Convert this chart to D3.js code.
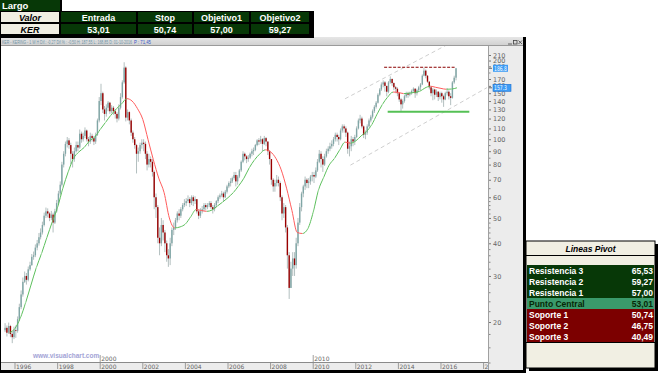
<!DOCTYPE html>
<html>
<head>
<meta charset="utf-8">
<script src="https://cdnjs.cloudflare.com/ajax/libs/d3/7.8.5/d3.min.js"></script>
<style>
  body { margin: 0; background: #fff; }
  svg { display: block; }
  text { font-family: "Liberation Sans", Arial, sans-serif; }
</style>
</head>
<body>
<svg id="chart" width="660" height="376"></svg>
<script>
// ---------- data ----------
// monthly candles, Jul 1995 .. Sep 2016 (open = previous close)
const firstOpen = 18.6
const closes = [
  19.0, 18.2, 19.3, 18.0, 17.5, 18.6,
  18.5, 20.5, 22.8, 25.5, 28.5, 30.0, 29.0, 31.8, 33.0, 35.5, 36.0, 38.5,
  40.0, 42.2, 44.0, 47.0, 51.0, 53.0, 52.0, 50.0, 51.5, 48.0, 53.0, 57.0,
  62, 67, 80, 88, 96, 99, 95, 88, 84, 90, 95, 93,
  105, 100, 103, 108, 100, 98, 103, 101, 98, 104, 118, 140,
  150, 130, 125, 132, 138, 128, 132, 128, 125, 120, 132, 145,
  165, 188, 121, 127, 118, 106, 100, 95, 88, 90, 95, 97,
  96, 88, 80, 84, 82, 75, 60, 55, 42, 40, 47, 44,
  40, 36, 35, 40, 45, 46, 49, 52, 51, 54, 56, 57,
  58, 59, 57, 60, 58, 59, 53, 51, 53, 54, 56, 55,
  56, 57, 55, 54, 56, 58, 60, 61, 62, 60, 63, 66,
  68, 69, 71, 73, 69, 72, 76, 82, 88, 86, 84, 85,
  88, 90, 91, 95, 99, 98, 100, 96, 101, 98, 90, 84,
  70, 66, 68, 70, 68, 60, 52, 55, 46, 36, 27, 32,
  35, 33, 40, 48, 55, 62, 66, 70, 68, 69, 72, 73,
  72, 76, 82, 88, 84, 80, 86, 90, 92, 94, 96, 100,
  104, 102, 100, 108, 112, 110, 106, 92, 94, 100, 98, 102,
  110, 118, 120, 112, 104, 106, 112, 118, 122, 128, 133, 138,
  148, 155, 162, 165, 160, 152, 165, 170, 164, 158, 156, 150,
  142, 136, 140, 146, 150, 148, 150, 153, 156, 150, 154, 158,
  162, 175, 183, 175, 166, 158, 150, 155, 148, 152, 145, 150,
  146, 142, 150, 152, 146, 144, 165, 172, 186.8
]
const highs = [
  19.8, 19.4, 19.9, 19.5, 18.4, 19.2,
  19.4, 21.0, 23.5, 26.4, 29.6, 31.2, 30.8, 32.6, 34.0, 36.4, 37.2, 39.6,
  41.2, 43.8, 45.6, 48.4, 52.4, 54.8, 54.4, 52.6, 53.2, 52.4, 54.2, 58.6,
  63.5, 69, 82, 90, 98, 102, 101, 97, 90, 93, 98, 98,
  109, 107, 106, 111, 109, 102, 106, 105, 103, 106, 120, 145,
  163, 152, 134, 136, 140, 139, 135, 134, 130, 127, 136, 150,
  168, 197, 190, 130, 128, 120, 108, 102, 96, 93, 97, 100,
  100, 98, 90, 88, 86, 84, 76, 62, 56, 46, 50, 49,
  45, 41, 38, 42, 46, 48, 50, 53, 54, 55, 57, 59,
  59.5, 61, 60, 61, 61, 60.5, 59, 54, 54.5, 55.5, 57, 57,
  57, 58, 58, 56, 57, 58.5, 61, 62, 63.5, 63, 64, 67,
  69, 71, 72, 75, 75, 73, 77, 83, 90, 89, 87, 87,
  89, 92, 93, 96, 100, 101, 103, 101, 103, 102, 98, 91,
  84, 71, 70, 73, 72, 69, 61, 57, 56, 47, 37, 34,
  37, 37, 42, 50, 57, 63, 67, 72, 71, 71, 73, 75,
  75, 78, 84, 91, 90, 86, 88, 92, 94, 97, 99, 102,
  106, 106, 104, 110, 114, 114, 112, 107, 98, 103, 102, 104,
  112, 120, 124, 122, 113, 108, 114, 120, 124, 130, 135, 140,
  150, 157, 165, 168, 167, 160, 167, 174, 171, 165, 160, 158,
  151, 144, 142, 148, 152, 152, 152, 155, 158, 157, 156, 160,
  164, 177, 187.5, 185, 176, 167, 160, 157, 156, 155, 153, 152,
  152, 148, 152, 157, 154, 150, 167, 175, 187.5
]
const lows = [
  18.3, 17.6, 18.0, 17.5, 16.6, 17.2,
  17.4, 18.2, 20.2, 22.4, 25.0, 28.2, 27.8, 28.6, 31.4, 32.8, 34.6, 35.4,
  37.6, 39.2, 41.4, 43.2, 46.4, 50.0, 50.2, 48.6, 49.0, 44.0, 47.4, 52.4,
  56, 61, 66, 78, 86, 93, 92, 80, 78, 82, 89, 90,
  92, 97, 98, 101, 98, 94, 96, 98, 95, 96, 103, 116,
  135, 126, 118, 122, 128, 125, 126, 124, 120, 116, 118, 130,
  143, 163, 117, 118, 114, 103, 97, 92, 74, 82, 88, 92,
  90, 84, 76, 78, 78, 72, 54, 50, 40, 36, 39, 41,
  37, 34, 32.5, 33, 39, 43, 45, 48, 49, 50, 53, 55,
  55.5, 57, 55, 56, 55.5, 56.5, 52, 49.5, 50, 52, 53, 53.5,
  54, 55, 54, 52, 53, 55, 57, 59, 60, 58, 59.5, 62,
  65, 66, 68, 70, 66, 67, 71, 75, 81, 83, 81, 82,
  84, 86, 87, 90, 94, 95, 96, 90, 95, 94, 87, 80,
  67, 63, 63, 66, 66, 58, 49, 50, 44, 32, 24.5, 27,
  30, 30, 32, 39, 47, 53, 60, 64, 65, 65, 67, 69,
  68, 71, 75, 81, 78, 75, 79, 85, 88, 90, 92, 94,
  98, 98, 95, 99, 106, 106, 102, 88, 86, 90, 94, 95,
  101, 109, 115, 110, 101, 100, 104, 111, 116, 120, 126, 131,
  137, 146, 153, 158, 152, 146, 150, 163, 160, 154, 150, 146,
  139, 127.5, 131, 138, 144, 144, 146, 148, 151, 144, 147, 152,
  154, 161, 174, 171, 164, 155, 146, 141, 142, 145, 140, 142,
  138, 133, 141, 147, 142, 135, 143, 163, 168
]

// moving average, quarterly readings from Jul 1995
const maValues = [
  17.8, 18.2,
  18.9, 20.7, 23.7, 27.7,
  32.3, 36.6, 42.1, 48.3,
  55, 65, 75, 84.5,
  89.5, 93, 98.5, 102,
  109, 116, 123.5, 130.5,
  136.5, 143, 140, 131,
  119, 99.6, 83.4, 71,
  62.5, 50, 45.8, 46.2,
  47.4, 50.5, 53.8, 53.4,
  53.0, 53.6, 55.5, 57.5,
  59.8, 62.5, 66.3, 71,
  77.8, 83.4, 87.9, 91.1,
  89.5, 84.5, 76.4, 65,
  53.4, 44.0, 43.6, 45.5,
  52.6, 63.9, 71.6, 79.6,
  84.5, 91.1, 97.5, 96.6,
  98.5, 103, 107, 113.7,
  124.8, 135.8, 145, 151.5,
  151.0, 149.5, 150.0, 151.0,
  152.5, 157, 159.5, 158,
  156.5, 155.3, 155.6, 157.3
]

// drawn studies
const resistance = { from: [2013, 4], to: [2016, 8], value: 188.5 }
const support = { from: [2013, 6], to: [2017, 4], value: 127.3 }
const channelUpper = { from: [2011, 6], to: [2016, 3], v0: 142.8, v1: 229 }
const channelLower = { from: [2011, 9], to: [2018, 2], v0: 79.6, v1: 157.6 }
const priceMarks = ['186.8', '157.3']
const priceMarkValues = [186.8, 157.3]

// axes
const yMajor = [20, 30, 40, 50, 60, 70, 80, 90, 100, 110, 120, 130, 140, 150, 160, 170, 190, 200, 210]
const yMinor = [14, 16, 18, 22, 24, 26, 28, 32, 34, 36, 38, 42, 44, 46, 48, 52, 54, 56, 58, 65, 75, 85, 95, 105, 180]
const decadeMarks = [2000, 2010]

// tables
const tradeTitle = 'Largo'
const tradeHeaders = ['Valor', 'Entrada', 'Stop', 'Objetivo1', 'Objetivo2']
const tradeValues = ['KER', '53,01', '50,74', '57,00', '59,27']
const pivotTitle = 'Lineas Pivot'
const pivotLabels = ['Resistencia 3', 'Resistencia 2', 'Resistencia 1', 'Punto Central', 'Soporte 1', 'Soporte 2', 'Soporte 3']
const pivotValues = ['65,53', '59,27', '57,00', '53,01', '50,74', '46,75', '40,49']
const pivotKinds = ['res', 'res', 'res', 'pc', 'sop', 'sop', 'sop']

const headerText = 'KER - KERING - 1 W H Dif.: -0,27 Dif.% : -0,50 H: 187,55 L: 168,85 D: 01-10-2016'
const headerTail = 'P : 71,45'

// ---------- drawing ----------
const svg = d3.select('#chart')
const plot = { left: 1, right: 488, top: 46, bottom: 362 }

const x = d3.scaleTime()
  .domain([new Date(1996, 0, 1), new Date(2018, 0, 1)])
  .range([15, 483.6])
const y = d3.scaleLog().domain([20, 210]).range([322, 55])

const candles = closes.map((c, i) => ({
  date: new Date(1995, 6 + i, 15),
  open: i === 0 ? firstOpen : closes[i - 1],
  close: c,
  high: highs[i],
  low: lows[i]
}))
const ma = maValues.map((v, i) => ({ date: new Date(1995, 6 + i * 3, 1), v }))

const defs = svg.append('defs')
defs.append('clipPath').attr('id', 'plotClip').append('rect')
  .attr('x', plot.left).attr('y', plot.top)
  .attr('width', plot.right - plot.left).attr('height', plot.bottom - plot.top)

const grad = defs.append('linearGradient').attr('id', 'barGrad')
  .attr('x1', 0).attr('y1', 0).attr('x2', 0).attr('y2', 1)
grad.append('stop').attr('offset', 0).attr('stop-color', '#e6e6e6')
grad.append('stop').attr('offset', 1).attr('stop-color', '#cfcfcf')

// window chrome
svg.append('rect').attr('x', 0).attr('y', 37).attr('width', 524).attr('height', 9).attr('fill', 'url(#barGrad)')
svg.append('line').attr('x1', 0).attr('x2', 524).attr('y1', 45.5).attr('y2', 45.5).attr('stroke', '#9a9a9a')
svg.append('rect').attr('x', plot.right).attr('y', plot.top).attr('width', 35).attr('height', 324).attr('fill', '#ececec')
svg.append('line').attr('x1', plot.right + 0.5).attr('x2', plot.right + 0.5).attr('y1', plot.top).attr('y2', 370).attr('stroke', '#a0a0a0')
svg.append('rect').attr('x', 0).attr('y', plot.bottom).attr('width', plot.right).attr('height', 8).attr('fill', '#ececec')
svg.append('line').attr('x1', 0).attr('x2', plot.right).attr('y1', plot.bottom + 0.5).attr('y2', plot.bottom + 0.5).attr('stroke', '#8a8a8a')

svg.append('text').attr('x', 2).attr('y', 43.5)
  .attr('textLength', 130).attr('lengthAdjust', 'spacingAndGlyphs')
  .style('font-size', '5.5px').attr('fill', '#6f93a6').text(headerText)
svg.append('text').attr('x', 134).attr('y', 43.5)
  .attr('textLength', 17).attr('lengthAdjust', 'spacingAndGlyphs')
  .style('font-size', '5.5px').attr('fill', '#3a55c8').text(headerTail)

// window buttons
const btn = svg.append('g').attr('stroke', '#444').attr('fill', 'none').attr('stroke-width', 0.8)
btn.append('line').attr('x1', 508).attr('x2', 512).attr('y1', 44).attr('y2', 44)
btn.append('rect').attr('x', 513.5).attr('y', 40.5).attr('width', 3.5).attr('height', 3.5)
btn.append('line').attr('x1', 518.5).attr('x2', 522).attr('y1', 40.5).attr('y2', 44)
btn.append('line').attr('x1', 522).attr('x2', 518.5).attr('y1', 40.5).attr('y2', 44)

// plot content
const g = svg.append('g').attr('clip-path', 'url(#plotClip)')

const lineAt = (spec, key0, key1) => ({
  x1: x(new Date(spec.from[0], spec.from[1], 1)),
  x2: x(new Date(spec.to[0], spec.to[1], 1)),
  y1: y(spec[key0]),
  y2: y(spec[key1])
})

// trend channel
;[channelUpper, channelLower].forEach(ch => {
  const p = lineAt(ch, 'v0', 'v1')
  g.append('line').attr('x1', p.x1).attr('x2', p.x2).attr('y1', p.y1).attr('y2', p.y2)
    .attr('stroke', '#cfcfcf').attr('stroke-width', 1).attr('stroke-dasharray', '4,3')
})

// candles
g.append('g').selectAll('line')
  .data(candles).join('line')
  .attr('x1', d => x(d.date)).attr('x2', d => x(d.date))
  .attr('y1', d => y(d.high)).attr('y2', d => y(d.low))
  .attr('stroke', '#b3bfbf').attr('stroke-width', 1)

g.append('g').selectAll('rect')
  .data(candles).join('rect')
  .attr('x', d => x(d.date) - 0.7)
  .attr('width', 1.4)
  .attr('y', d => y(Math.max(d.open, d.close)))
  .attr('height', d => Math.max(0.8, Math.abs(y(d.open) - y(d.close))))
  .attr('fill', d => d.close >= d.open ? '#80a6a6' : '#9a0000')

// moving average, red where falling
const maLine = d3.line().x(d => x(d.date)).y(d => y(d.v)).curve(d3.curveMonotoneX)
const redClip = defs.append('clipPath').attr('id', 'maRed')
const greenClip = defs.append('clipPath').attr('id', 'maGreen')
ma.slice(0, -1).forEach((d, i) => {
  const falling = ma[i + 1].v < d.v
  ;(falling ? redClip : greenClip).append('rect')
    .attr('x', x(d.date) - (i === 0 ? 20 : 0)).attr('y', 0)
    .attr('width', x(ma[i + 1].date) - x(d.date) + (i === ma.length - 2 ? 20 : 0))
    .attr('height', 376)
})
g.append('path').datum(ma).attr('d', maLine).attr('fill', 'none')
  .attr('stroke', '#5cbf5c').attr('stroke-width', 1).attr('clip-path', 'url(#maGreen)')
g.append('path').datum(ma).attr('d', maLine).attr('fill', 'none')
  .attr('stroke', '#ff5c5c').attr('stroke-width', 1).attr('clip-path', 'url(#maRed)')

// resistance / support
const r = lineAt({ ...resistance, v: resistance.value }, 'v', 'v')
g.append('line').attr('x1', r.x1).attr('x2', r.x2).attr('y1', r.y1).attr('y2', r.y2)
  .attr('stroke', '#8b0000').attr('stroke-width', 1).attr('stroke-dasharray', '3,1.5')
const s = lineAt({ ...support, v: support.value }, 'v', 'v')
g.append('line').attr('x1', s.x1).attr('x2', s.x2).attr('y1', s.y1).attr('y2', s.y2)
  .attr('stroke', '#55c055').attr('stroke-width', 2)

// watermark
svg.append('text').attr('x', 33).attr('y', 357.5)
  .style('font-size', '6.5px').style('font-weight', 'bold')
  .attr('fill', '#a3a3d6').text('www.visualchart.com')

// y axis (right panel)
const yAxis = d3.axisRight(y).tickValues(yMajor).tickFormat(d3.format('d')).tickSize(2).tickPadding(2)
const yAxisG = svg.append('g').attr('transform', `translate(${plot.right + 1},0)`).call(yAxis)
yAxisG.select('.domain').remove()
yAxisG.selectAll('line').attr('stroke', '#777')
yAxisG.selectAll('text').attr('fill', '#666').style('font-size', '6.5px')
  .style('font-family', '"DejaVu Sans", sans-serif')

const yMinorG = svg.append('g').attr('transform', `translate(${plot.right + 1},0)`)
  .call(d3.axisRight(y).tickValues(yMinor).tickFormat('').tickSize(1.5))
yMinorG.select('.domain').remove()
yMinorG.selectAll('line').attr('stroke', '#888')

// price marks
priceMarkValues.forEach((v, i) => {
  const yy = y(v)
  const gm = svg.append('g')
  gm.append('rect').attr('x', 493).attr('y', yy - 3.5).attr('width', i === 0 ? 15 : 18).attr('height', 7)
    .attr('fill', '#3d9cf5').attr('stroke', i === 0 ? 'none' : '#1d6fd0').attr('stroke-width', 0.6)
  gm.append('text').attr('x', 494).attr('y', yy + 2.3).attr('fill', '#fff')
    .attr('textLength', 13).attr('lengthAdjust', 'spacingAndGlyphs')
    .style('font-size', '6.5px').style('font-family', '"DejaVu Sans", sans-serif').text(priceMarks[i])
  gm.append('line').attr('x1', 489).attr('x2', 492).attr('y1', yy).attr('y2', yy).attr('stroke', '#666')
})

// x axis (bottom panel)
defs.append('clipPath').attr('id', 'xClip').append('rect')
  .attr('x', 0).attr('y', 340).attr('width', plot.right).attr('height', 30)
const xg = svg.append('g').attr('clip-path', 'url(#xClip)')
const years = d3.timeYear.every(2).range(new Date(1996, 0, 1), new Date(2018, 0, 2))
const xt = xg.selectAll('g.xt').data(years).join('g').attr('class', 'xt')
  .attr('transform', d => `translate(${x(d)},0)`)
xt.append('line').attr('y1', plot.bottom + 1).attr('y2', 369).attr('stroke', '#777').attr('stroke-width', 0.7)
xt.append('text').attr('x', 1).attr('y', 368.5).attr('fill', '#666')
  .style('font-size', '6px').style('font-family', '"DejaVu Sans", sans-serif')
  .text(d3.timeFormat('%Y'))

const dm = xg.selectAll('g.dm').data(decadeMarks).join('g').attr('class', 'dm')
  .attr('transform', d => `translate(${x(new Date(d, 0, 1))},0)`)
dm.append('line').attr('y1', 355).attr('y2', plot.bottom).attr('stroke', '#777').attr('stroke-width', 0.7)
dm.append('text').attr('x', 1).attr('y', 360.5).attr('fill', '#666')
  .style('font-size', '6px').style('font-family', '"DejaVu Sans", sans-serif').text(d => d)

// window borders
svg.append('line').attr('x1', 0.5).attr('x2', 0.5).attr('y1', 37).attr('y2', 372).attr('stroke', '#000')
svg.append('rect').attr('x', 523).attr('y', 37).attr('width', 3).attr('height', 336).attr('fill', '#000')
svg.append('rect').attr('x', 0).attr('y', 370).attr('width', 526).attr('height', 3).attr('fill', '#000')

// ---------- trade table (top left) ----------
const dark = '#073807'
const beige = '#f1efe3'
const colX = [0, 60, 137, 193, 250, 310]
const tt = svg.append('g')
tt.append('rect').attr('x', 0).attr('y', 0).attr('width', 62).attr('height', 13).attr('fill', '#000')
tt.append('rect').attr('x', 0).attr('y', 0).attr('width', 60).attr('height', 11).attr('fill', dark)
tt.append('text').attr('x', 2).attr('y', 9).attr('fill', '#fff')
  .style('font-size', '9.5px').style('font-weight', 'bold').text(tradeTitle)
tt.append('rect').attr('x', 0).attr('y', 11).attr('width', 314).attr('height', 27).attr('fill', '#000')

;[tradeHeaders, tradeValues].forEach((row, r) => {
  const y0 = 11 + r * 12
  row.forEach((label, c) => {
    tt.append('rect').attr('x', colX[c] + 0.5).attr('y', y0 + 0.5)
      .attr('width', colX[c + 1] - colX[c] - 1).attr('height', 11)
      .attr('fill', c === 0 ? beige : dark).attr('stroke', '#000').attr('stroke-width', 1)
    tt.append('text').attr('x', (colX[c] + colX[c + 1]) / 2).attr('y', y0 + 9.5)
      .attr('text-anchor', 'middle').attr('fill', c === 0 ? '#000' : '#fff')
      .style('font-size', '9px').style('font-weight', 'bold')
      .style('font-style', c === 0 ? 'italic' : 'normal').text(label)
  })
})

// ---------- pivot table (bottom right) ----------
const pv = svg.append('g')
const px0 = 526, px1 = 655
pv.append('rect').attr('x', px0 + 3).attr('y', 244).attr('width', px1 - px0).attr('height', 127).attr('fill', '#000')
pv.append('rect').attr('x', px0).attr('y', 241).attr('width', px1 - px0).attr('height', 127).attr('fill', beige)
  .attr('stroke', '#000').attr('stroke-width', 1)
pv.append('line').attr('x1', px0).attr('x2', px1).attr('y1', 255.5).attr('y2', 255.5).attr('stroke', '#000')
pv.append('text').attr('x', (px0 + px1) / 2).attr('y', 251.5).attr('text-anchor', 'middle')
  .style('font-size', '8.5px').style('font-weight', 'bold').style('font-style', 'italic').text(pivotTitle)

const rowFill = { res: '#073807', pc: '#3a9a6b', sop: '#7c0000' }
const rowTop = i => 265 + i * 11
pivotLabels.forEach((label, i) => {
  const k = pivotKinds[i]
  pv.append('rect').attr('x', px0 + 1).attr('y', rowTop(i)).attr('width', px1 - px0 - 2).attr('height', 11.2)
    .attr('fill', rowFill[k])
  const col = k === 'pc' ? '#062806' : '#fff'
  pv.append('text').attr('x', px0 + 3).attr('y', rowTop(i) + 8.5).attr('fill', col)
    .style('font-size', '8.5px').style('font-weight', 'bold').text(label)
  pv.append('text').attr('x', px1 - 2).attr('y', rowTop(i) + 8.5).attr('fill', col)
    .attr('text-anchor', 'end').style('font-size', '8.5px').style('font-weight', 'bold').text(pivotValues[i])
})
pv.append('line').attr('x1', px0).attr('x2', px1).attr('y1', rowTop(7) + 0.5).attr('y2', rowTop(7) + 0.5).attr('stroke', '#000')
</script>
</body>
</html>
